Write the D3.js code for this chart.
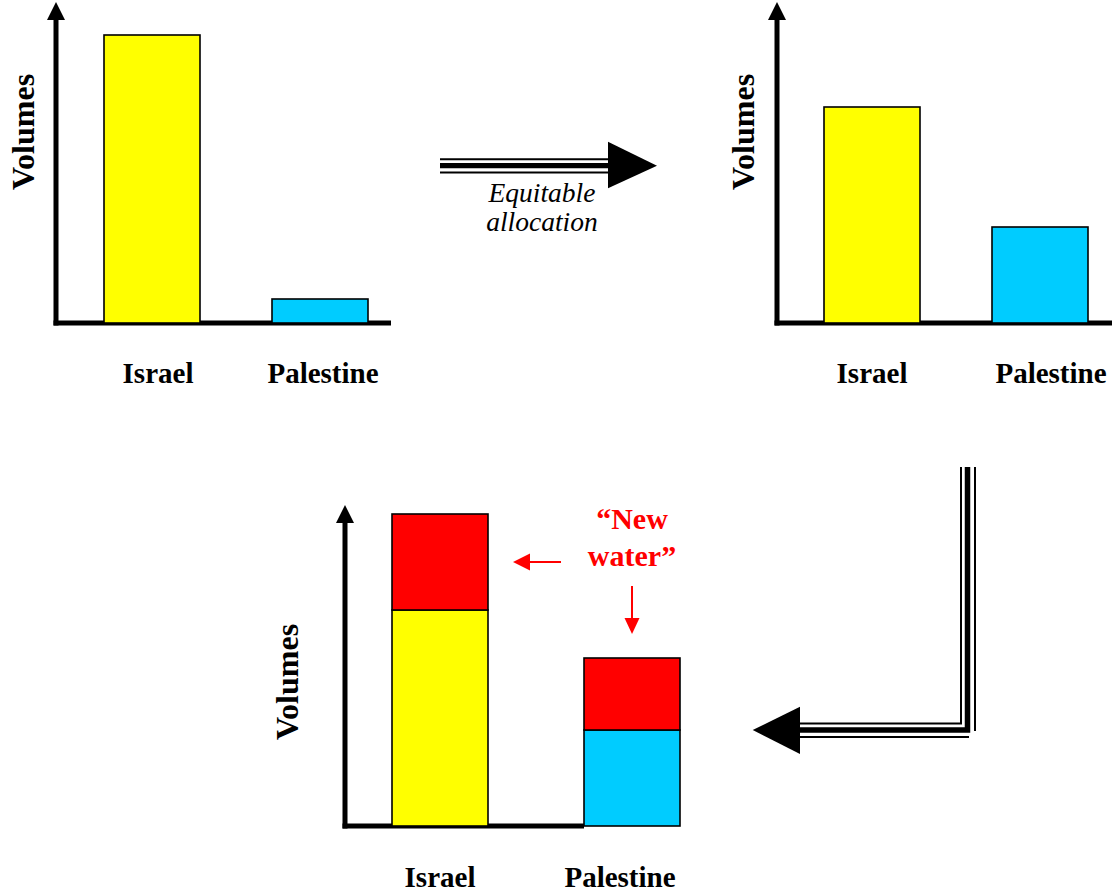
<!DOCTYPE html>
<html>
<head>
<meta charset="utf-8">
<script src="https://cdn.jsdelivr.net/npm/d3@7"></script>
<style>
  html, body { margin: 0; padding: 0; background: #fff; }
  svg { display: block; }
  text { font-family: "Liberation Serif", "Times New Roman", serif; }
</style>
</head>
<body>
<svg id="chart" width="1113" height="890"></svg>
<script>
// ---- data ----
const categories = ["Israel", "Palestine"];
const currentVolumes = [96, 8];          // panel 1: current allocation
const equitableVolumes = [72, 32];       // panel 2: equitable allocation
const newWaterVolumes = [32, 24];        // panel 3: added "new water"
const axisTitle = "Volumes";
const transitionLabel = ["Equitable", "allocation"];
const newWaterLabel = ["\u201CNew", "water\u201D"];

const colors = { Israel: "#FFFF00", Palestine: "#00CCFF", newWater: "#FF0000" };

const svg = d3.select("#chart");
const FONT = '"Liberation Serif", "Times New Roman", serif';

// ---- layout of the three panels ----
const panels = [
  { axisX: 56, baseY: 323, bandStart: 104, step: 168, axisEnd: 391, labelDx: [6, 3], labelY: 383, titleX: 34, titleY: 132, values: [currentVolumes] },
  { axisX: 777, baseY: 323, bandStart: 824, step: 168, axisEnd: 1112, labelDx: [0, 11], labelY: 383, titleX: 754, titleY: 132, values: [equitableVolumes] },
  { axisX: 345, baseY: 826, bandStart: 392, step: 192, axisEnd: 584, labelDx: [0, -12], labelY: 887, titleX: 298, titleY: 682, values: [equitableVolumes, newWaterVolumes] }
];

const barWidth = 96;

panels.forEach((p, pi) => {
  const g = svg.append("g");
  const padInner = (p.step - barWidth) / p.step;
  const x = d3.scaleBand()
    .domain(categories)
    .range([p.bandStart, p.bandStart + p.step * (2 - padInner)])
    .paddingInner(padInner)
    .paddingOuter(0);
  const y = d3.scaleLinear().domain([0, 100]).range([p.baseY, p.baseY - 300]);

  // axes
  g.append("line")
    .attr("x1", p.axisX).attr("x2", p.axisX)
    .attr("y1", p.baseY + 2.5).attr("y2", y(100) - 12)
    .attr("stroke", "#000").attr("stroke-width", 5);
  g.append("path")
    .attr("d", `M${p.axisX - 9},${y(100) - 3} L${p.axisX},${y(100) - 21} L${p.axisX + 9},${y(100) - 3} Z`)
    .attr("fill", "#000");
  g.append("line")
    .attr("x1", p.axisX - 2.5).attr("x2", p.axisEnd)
    .attr("y1", p.baseY).attr("y2", p.baseY)
    .attr("stroke", "#000").attr("stroke-width", 5);

  // bars (stacked)
  const rows = categories.map((c, i) => {
    const r = { cat: c };
    p.values.forEach((arr, k) => r["s" + k] = arr[i]);
    return r;
  });
  const keys = p.values.map((_, k) => "s" + k);
  const stacked = d3.stack().keys(keys)(rows);
  stacked.forEach((layer, k) => {
    g.selectAll(null).data(layer).enter().append("rect")
      .attr("x", d => x(d.data.cat))
      .attr("width", x.bandwidth())
      .attr("y", d => y(d[1]))
      .attr("height", d => y(d[0]) - y(d[1]))
      .attr("fill", d => k === 0 ? colors[d.data.cat] : colors.newWater)
      .attr("stroke", "#000").attr("stroke-width", 1.6);
  });

  // category labels
  g.selectAll(null).data(categories).enter().append("text")
    .attr("x", (d, i) => x(d) + x.bandwidth() / 2 + p.labelDx[i])
    .attr("y", p.labelY)
    .attr("text-anchor", "middle")
    .attr("font-weight", "bold")
    .attr("font-size", 29)
    .attr("fill", "#000")
    .text(d => d);

  // axis title
  g.append("text")
    .attr("transform", `translate(${p.titleX},${p.titleY}) rotate(-90)`)
    .attr("text-anchor", "middle")
    .attr("font-weight", "bold")
    .attr("font-size", 32)
    .attr("fill", "#000")
    .text(axisTitle);

  p.x = x; p.y = y;
});

// ---- transition arrow 1 (triple line, right) ----
const a1 = svg.append("g");
[[159.3, 2], [165.7, 5.2], [172.5, 2]].forEach(([yy, w]) => {
  a1.append("line").attr("x1", 440).attr("x2", 610).attr("y1", yy).attr("y2", yy)
    .attr("stroke", "#000").attr("stroke-width", w);
});
a1.append("path").attr("d", "M608,141.7 L657,165.7 L608,188.3 Z").attr("fill", "#000");
transitionLabel.forEach((t, i) => {
  a1.append("text")
    .attr("x", 542).attr("y", 202 + i * 29)
    .attr("text-anchor", "middle")
    .attr("font-style", "italic")
    .attr("font-size", 27.5)
    .attr("fill", "#000")
    .text(t);
});

// ---- transition arrow 2 (triple line elbow, down then left) ----
const a2 = svg.append("g").attr("fill", "none").attr("stroke", "#000");
a2.append("path").attr("d", "M961,467 V723.5 H798").attr("stroke-width", 2);
a2.append("path").attr("d", "M967.5,467 V730 H798").attr("stroke-width", 5.5);
a2.append("path").attr("d", "M975,467 V731").attr("stroke-width", 2);
a2.append("path").attr("d", "M798,737 H969").attr("stroke-width", 2);
svg.append("path").attr("d", "M800,706.7 L752.7,730 L800,754 Z").attr("fill", "#000");

// ---- "New water" annotation ----
const red = colors.newWater;
newWaterLabel.forEach((t, i) => {
  svg.append("text")
    .attr("x", 632).attr("y", 529 + i * 37)
    .attr("text-anchor", "middle")
    .attr("font-weight", "bold")
    .attr("font-size", 30)
    .attr("fill", red)
    .text(t);
});
// arrow to Israel's new water
svg.append("line").attr("x1", 561).attr("x2", 528).attr("y1", 562).attr("y2", 562)
  .attr("stroke", red).attr("stroke-width", 2);
svg.append("path").attr("d", "M530,553.5 L513,562 L530,570.5 Z").attr("fill", red);
// arrow to Palestine's new water
svg.append("line").attr("x1", 632).attr("x2", 632).attr("y1", 586).attr("y2", 620)
  .attr("stroke", red).attr("stroke-width", 2);
svg.append("path").attr("d", "M624.5,618 L632,634 L639.5,618 Z").attr("fill", red);
</script>
</body>
</html>
